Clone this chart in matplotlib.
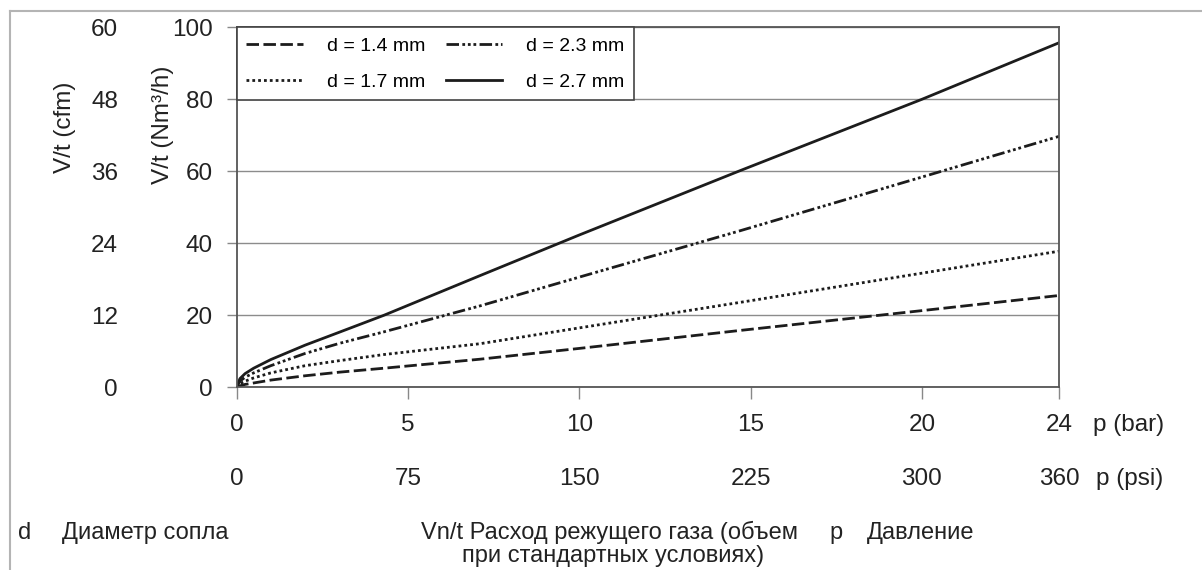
import matplotlib
matplotlib.use('Agg')
import matplotlib.pyplot as plt
from matplotlib.lines import Line2D

plt.rcParams['font.family'] = ['Liberation Sans', 'DejaVu Sans']

# ---- data ----
pressure_bar = [0, 0.1, 0.25, 0.5, 1, 2, 3, 4.3, 7.1, 10, 14.7, 20, 24]
flow_d14 = [0, 0.4, 0.8, 1.2, 2.0, 3.2, 4.2, 5.3, 7.8, 10.8, 15.8, 21.3, 25.5]
flow_d17 = [0, 1.0, 1.7, 2.6, 4.0, 6.0, 7.4, 9.1, 12.1, 16.5, 23.6, 31.7, 37.8]
flow_d23 = [0, 1.7, 2.8, 4.0, 6.0, 9.4, 12.2, 15.4, 22.6, 30.6, 43.5, 58.4, 69.7]
flow_d27 = [0, 2.4, 3.8, 5.3, 7.7, 11.7, 15.3, 20.0, 31.0, 42.3, 60.2, 80.0, 95.7]
series_labels = ['d = 1.4 mm', 'd = 1.7 mm', 'd = 2.3 mm', 'd = 2.7 mm']

bar_ticks = [0, 5, 10, 15, 20, 24]
psi_labels = ['0', '75', '150', '225', '300', '360']
nm3_ticks = [0, 20, 40, 60, 80, 100]
cfm_ticks = [0, 12, 24, 36, 48, 60]

W, H = 1202, 570
fig = plt.figure(figsize=(W / 100, H / 100), dpi=100)


def fx(px):
    return px / W


def fy(py):
    return 1 - py / H


x0, x1, y0, y1 = 236.5, 1059, 387.3, 27.3
ax = fig.add_axes([fx(x0), fy(y0), fx(x1) - fx(x0), fy(y1) - fy(y0)])

ink = '#1c1c1c'
styles = [
    dict(linestyle=(0, (4.5, 1.6))),
    dict(linestyle=(0, (1.0, 1.1)), dash_capstyle='butt'),
    dict(linestyle=(0, (4.5, 1.2, 1.0, 1.0, 1.0, 1.0, 1.0, 1.2)), dash_capstyle='butt'),
    dict(linestyle='-'),
]
for ys, lab, st in zip([flow_d14, flow_d17, flow_d23, flow_d27], series_labels, styles):
    ax.plot(pressure_bar, ys, color=ink, lw=2.0, label=lab, **st)

ax.set_xlim(0, 24)
ax.set_ylim(0, 100)
ax.set_xticks(bar_ticks)
ax.set_xticklabels([str(t) for t in bar_ticks])
ax.set_yticks(nm3_ticks)
ax.set_yticklabels([str(t) for t in nm3_ticks])
ax.yaxis.grid(True, color='#8c8c8c', lw=1.0)
ax.set_axisbelow(True)
for s in ax.spines.values():
    s.set_color('#555555')
    s.set_linewidth(1.3)
ax.tick_params(axis='x', direction='out', length=8.6, width=1.0, color='#888888',
               labelsize=17.5, pad=10.5, labelcolor='#222222')
ax.tick_params(axis='y', direction='out', length=7.2, width=1.0, color='#888888',
               labelsize=17.5, pad=9.7, labelcolor='#222222')

# psi row
secx = ax.secondary_xaxis(0)
secx.set_xticks(bar_ticks)
secx.set_xticklabels(psi_labels)
secx.tick_params(length=0, labelsize=17.5, pad=58.0, labelcolor='#222222')
secx.spines['bottom'].set_visible(False)

# cfm column
secy = ax.secondary_yaxis((118 - x0) / (x1 - x0), functions=(lambda v: v * 0.6, lambda v: v / 0.6))
secy.set_yticks(cfm_ticks)
secy.set_yticklabels([str(t) for t in cfm_ticks])
secy.tick_params(length=0, labelsize=17.5, pad=0, labelcolor='#222222')
secy.spines['left'].set_visible(False)

fig.text(fx(65), fy(127), 'V/t (cfm)', rotation=90, ha='center', va='center', fontsize=17.5, color='#222222')
fig.text(fx(163), fy(125), 'V/t (Nm³/h)', rotation=90, ha='center', va='center', fontsize=17.5, color='#222222')

fig.text(fx(1093), fy(431.5), 'p (bar)', ha='left', va='baseline', fontsize=17.5, color='#222222')
fig.text(fx(1096), fy(485.5), 'p (psi)', ha='left', va='baseline', fontsize=17.5, color='#222222')

leg = ax.legend(loc='upper left', bbox_to_anchor=(0, 1), ncol=2, fontsize=14,
                frameon=True, fancybox=False, borderaxespad=0, borderpad=0.5,
                handlelength=2.9, handletextpad=1.25, columnspacing=1.05, labelspacing=0.95)
fr = leg.get_frame()
fr.set_edgecolor('#444444')
fr.set_linewidth(1.2)
fr.set_alpha(1)

# footnotes
fs = 17
fig.text(fx(18), fy(539), 'd', fontsize=fs, va='baseline', color='#222222')
fig.text(fx(62), fy(539), 'Диаметр сопла', fontsize=fs, va='baseline', color='#222222')
fig.text(fx(421), fy(539), 'Vn/t Расход режущего газа (объем', fontsize=fs, va='baseline', color='#222222')
fig.text(fx(462), fy(562), 'при стандартных условиях)', fontsize=fs, va='baseline', color='#222222')
fig.text(fx(829), fy(539), 'p', fontsize=fs, va='baseline', color='#222222')
fig.text(fx(867), fy(539), 'Давление', fontsize=fs, va='baseline', color='#222222')

# outer frame (left and top)
fig.add_artist(Line2D([fx(9.5), fx(9.5)], [0, fy(10.5)], color='#b4b4b4', lw=1.5))
fig.add_artist(Line2D([fx(9.5), 1], [fy(10.5), fy(10.5)], color='#b4b4b4', lw=1.5))

fig.savefig('out.png', dpi=100)
